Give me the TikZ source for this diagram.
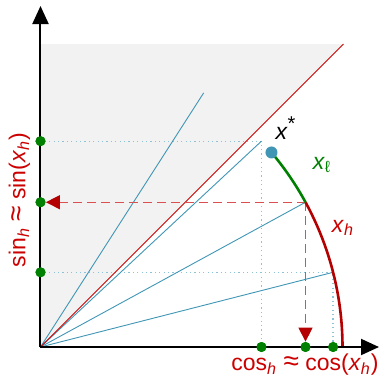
\documentclass[tikz,border=0pt]{standalone}
\usepackage{fontspec}
\setmainfont{Liberation Sans}
\usetikzlibrary{
    positioning,
    arrows.meta
}
\definecolor{hred}{RGB}{204,0,0}
\definecolor{darkred}{RGB}{180,0,0}
\definecolor{dashred}{RGB}{218,80,80}
\definecolor{lgreen}{RGB}{0,128,0}
\definecolor{ray}{RGB}{64,150,180}
\definecolor{lightray}{RGB}{140,195,215}
\newcommand{\apx}{{\fontsize{14}{14}\selectfont ≈}}
\tikzset{
    >=Stealth,
    axis/.style={
        line width=1pt,
        -{Triangle[length=9pt,width=8pt]}
    },
    rayline/.style={
        draw=ray,
        line width=0.45pt
    },
    guide/.style={
        draw=lightray,
        line width=0.6pt,
        dash pattern=on 0.6pt off 1.6pt
    },
    proj/.style={
        draw=dashred,
        line width=0.65pt,
        dash pattern=on 4.5pt off 2.5pt,
        -{Triangle[length=7pt,width=7pt,color=darkred]}
    },
    dot/.style={
        circle,
        fill=lgreen,
        inner sep=0pt,
        minimum size=5pt
    },
    lbl/.style={
        font=\fontsize{11.5}{13}\selectfont,
        inner sep=1pt
    }
}

\begin{document}
\begin{tikzpicture}[
    x=0.5pt,
    y=0.5pt
]
    \useasboundingbox (-40.5,-30) rectangle (340.5,347);

    % Punkte
    \coordinate (O) at (0,0);
    \coordinate (xe) at (338.5,0);
    \coordinate (ye) at (0,341);
    \coordinate (top) at (303,303);
    \coordinate (r1) at ({deg(0.25)}:302);
    \coordinate (r2) at ({deg(0.5)}:302);
    \coordinate (r3) at ({deg(0.75)}:302);
    \coordinate (r4) at ({deg(1.0)}:302);
    \coordinate (ra) at (302,0);

    % Bereich
    \fill[black!5] (O) -- (top) -- (0,303) -- cycle;

    % Hilfslinien
    \draw[guide] (O |- r3) -- (r3) -- (r3 |- O);
    \draw[guide] (O |- r1) -- (r1) -- (r1 |- O);

    % Strahlen
    \foreach \r in {r1,r2,r3,r4}
        \draw[rayline] (O) -- (\r);
    \draw[hred, line width=0.5pt] (O) -- (top);

    % Achsenpunkte
    \node[dot] (c1) at (r1 |- O) {};
    \node[dot] (c2) at (r2 |- O) {};
    \node[dot] (c3) at (r3 |- O) {};
    \node[dot] (s1) at (O |- r1) {};
    \node[dot] (s2) at (O |- r2) {};
    \node[dot] (s3) at (O |- r3) {};

    % Projektionen
    \draw[proj] (r2) -- (s2.east);
    \draw[proj] (r2) -- (c2.north);

    % Boegen
    \draw[darkred, line width=1.3pt] (ra) arc[start angle=0, end angle={deg(0.5)}, radius=302];
    \draw[lgreen, line width=1.3pt] (r2) arc[start angle={deg(0.5)}, end angle={deg(0.7)}, radius=302];
    \node[circle, fill=ray, inner sep=0pt, minimum size=6pt] (xs) at ({deg(0.7)}:302) {};

    % Achsen
    \draw[axis] (O) -- (xe);
    \draw[axis] (O) -- (ye);
    \node[dot] at (c1) {};
    \node[dot] at (c2) {};
    \node[dot] at (c3) {};
    \node[dot] at (s1) {};
    \node[dot] at (s3) {};
    \node[dot] at (s2) {};

    % Beschriftungen
    \node[lbl] (lxs) at (245.5,219) {\textit{x}\textsuperscript{\fontsize{10}{10}\selectfont *}};
    \node[lbl, lgreen] (lxl) at (281.5,182) {\textit{x}\textsubscript{ℓ}};
    \node[lbl, hred] (lxh) at (302.5,119) {\textit{x}\textsubscript{\textit{h}}};
    \node[lbl, hred] (lcos) at (264.5,-18)
        {cos\textsubscript{\textit{h}} \apx{} cos(\textit{x}\textsubscript{\textit{h}})};
    \node[lbl, hred, rotate=90] (lsin) at (-21,147)
        {sin\textsubscript{\textit{h}} \apx{} sin(\textit{x}\textsubscript{\textit{h}})};

\end{tikzpicture}
\end{document}
